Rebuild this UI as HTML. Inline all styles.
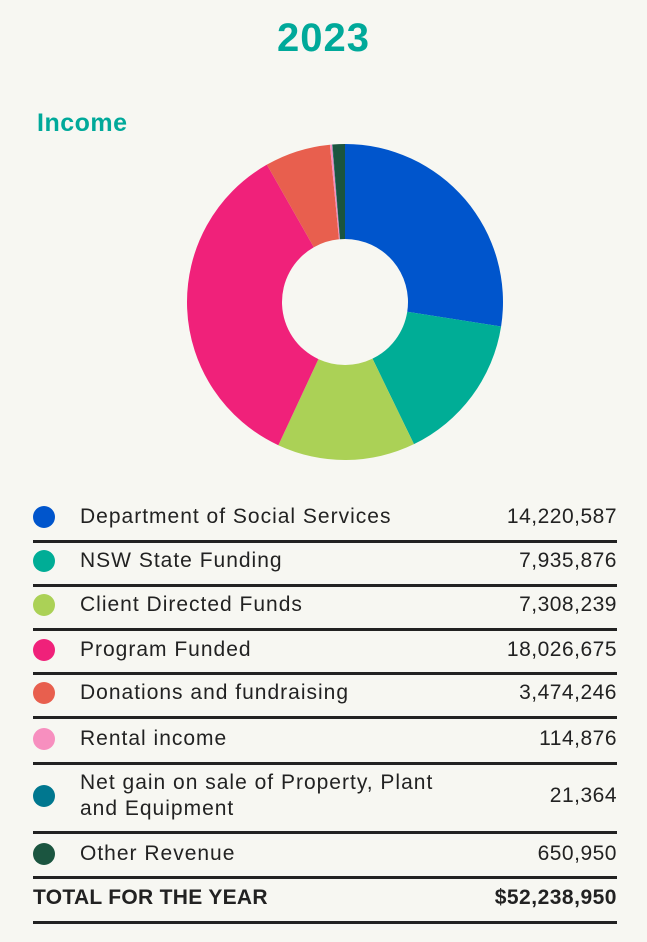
<!DOCTYPE html>
<html><head><style>
body{margin:0;width:647px;height:942px;background:#f7f7f2;font-family:"Liberation Sans",sans-serif;color:#222;position:relative;overflow:hidden}
.t{position:absolute;left:0;width:647px;text-align:center;top:16px;font-size:40px;font-weight:bold;color:#00a99a;letter-spacing:1px}
.inc{position:absolute;left:37px;top:109px;font-size:25px;font-weight:bold;color:#00a99a;letter-spacing:0.5px}
.row{position:absolute;left:33px;width:584px;font-size:21px}
.dot{position:absolute;left:0;width:22px;height:22px;border-radius:50%}
.lab{position:absolute;left:47px;line-height:26px;letter-spacing:1px;white-space:nowrap}
.val{position:absolute;right:0;letter-spacing:0.5px}
.ln{position:absolute;left:33px;width:584px;height:3px;background:#222}
</style></head><body>
<div class="t">2023</div>
<div class="inc">Income</div>
<svg id="pie" width="647" height="942" style="position:absolute;left:0;top:0"></svg>
<div id="rows"></div>
<script>
var d=[[14220587,"#0055cc"],[7935876,"#00ad96"],[7308239,"#abd156"],[18026675,"#f0217a"],[3474246,"#e85f4e"],[114876,"#f78fbf"],[21364,"#00778f"],[650950,"#1b5540"]];
var T=0;d.forEach(x=>T+=x[0]);
var cx=345,cy=302,R=158,r=63,a=0,s="";
function p(ang,rad){return [cx+rad*Math.sin(ang),cy-rad*Math.cos(ang)];}
d.forEach(x=>{var b=a+x[0]/T*2*Math.PI,l=(b-a)>Math.PI?1:0;
var A=p(a,R),B=p(b,R),C=p(b,r),D=p(a,r);
s+='<path fill="'+x[1]+'" d="M'+A+' A'+R+','+R+' 0 '+l+' 1 '+B+' L'+C+' A'+r+','+r+' 0 '+l+' 0 '+D+'Z"/>';a=b;});
document.getElementById('pie').innerHTML=s;
var rows=[["Department of Social Services","14,220,587",517,d[0][1]],["NSW State Funding","7,935,876",561,d[1][1]],["Client Directed Funds","7,308,239",605,d[2][1]],["Program Funded","18,026,675",650,d[3][1]],["Donations and fundraising","3,474,246",693,d[4][1]],["Rental income","114,876",739,d[5][1]],["Net gain on sale of Property, Plant<br>and Equipment","21,364",796,d[6][1]],["Other Revenue","650,950",854,d[7][1]]];
var h="";rows.forEach(q=>{h+='<div class="row" style="top:'+(q[2])+'px"><div class="dot" style="background:'+q[3]+';top:-11px"></div><div class="lab" style="top:'+(q[0].indexOf("<br>")>0?-26:-13)+'px">'+q[0]+'</div><div class="val" style="top:-13px;line-height:26px">'+q[1]+'</div></div>';});
h+='<div class="row" style="top:898px;font-weight:bold"><div style="position:absolute;left:0;top:-13px;line-height:26px;letter-spacing:0.3px">TOTAL FOR THE YEAR</div><div class="val" style="top:-13px;line-height:26px">$52,238,950</div></div>';
[540,584,628,672,716,762,831,876,921].forEach(y=>h+='<div class="ln" style="top:'+y+'px"></div>');
document.getElementById('rows').innerHTML=h;
</script>
</body></html>
